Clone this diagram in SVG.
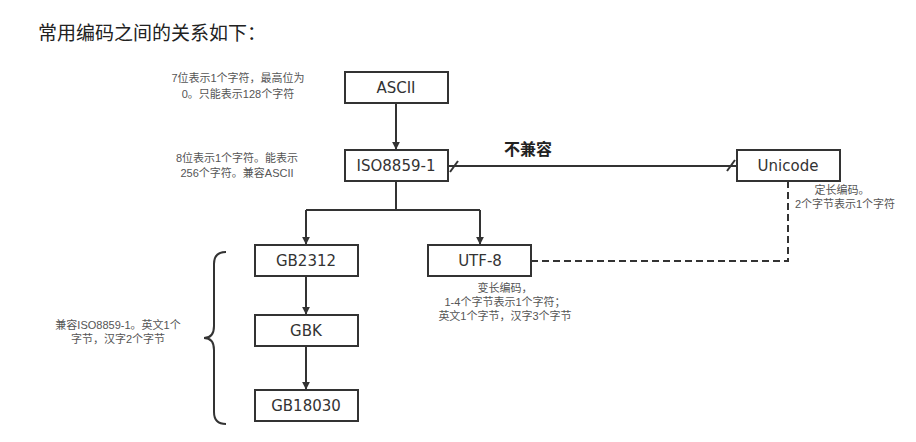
<svg xmlns="http://www.w3.org/2000/svg" width="916" height="442" viewBox="0 0 916 442">
<defs>
<marker id="ah" viewBox="0 0 10 10" refX="9" refY="5" markerWidth="8" markerHeight="8" orient="auto" markerUnits="userSpaceOnUse"><path d="M0,0 L10,5 L0,10 z" fill="#333"/></marker>
<style>
.box{fill:#fff;stroke:#333;stroke-width:2}
.lbl{font-family:"DejaVu Sans","Noto Sans CJK SC",sans-serif;font-size:15px;fill:#333;text-anchor:middle}
.note{font-family:"Liberation Sans","Noto Sans CJK SC",sans-serif;font-size:11px;fill:#555;text-anchor:middle}
.ln{fill:none;stroke:#333;stroke-width:2}
</style>
</defs>
<rect width="916" height="442" fill="#fff"/>
<text x="38" y="40" style="font-family:'Noto Sans CJK SC',sans-serif;font-size:19px;fill:#222">常用编码之间的关系如下：</text>
<g id="connectors">
<line class="ln" x1="396" y1="103" x2="396" y2="149" marker-end="url(#ah)"/>
<path class="ln" d="M396,181 V210 M306,210 H480"/>
<line class="ln" x1="306" y1="210" x2="306" y2="244" marker-end="url(#ah)"/>
<line class="ln" x1="480" y1="210" x2="480" y2="244" marker-end="url(#ah)"/>
<line class="ln" x1="306" y1="276" x2="306" y2="314" marker-end="url(#ah)"/>
<line class="ln" x1="306" y1="346" x2="306" y2="389" marker-end="url(#ah)"/>
<line class="ln" x1="448" y1="166" x2="737" y2="166"/>
<line class="ln" x1="450" y1="172" x2="458" y2="161"/>
<line class="ln" x1="727" y1="171" x2="735" y2="160"/>
<path class="ln" d="M531,261 H788 V181" stroke-dasharray="7,4"/>
<path class="ln" d="M226,252 Q214,252 214,264 V326 Q214,338 204,338 Q214,338 214,350 V412 Q214,424 226,424"/>
</g>
<g id="ascii"><rect class="box" x="345" y="72" width="103" height="31"/><text class="lbl" x="396" y="93">ASCII</text></g>
<g id="iso"><rect class="box" x="345" y="150" width="103" height="31"/><text class="lbl" x="396" y="171">ISO8859-1</text></g>
<g id="unicode"><rect class="box" x="737" y="150" width="103" height="31"/><text class="lbl" x="788" y="171">Unicode</text></g>
<g id="gb2312"><rect class="box" x="255" y="245" width="103" height="31"/><text class="lbl" x="306" y="266">GB2312</text></g>
<g id="utf8"><rect class="box" x="428" y="245" width="103" height="31"/><text class="lbl" x="480" y="266">UTF-8</text></g>
<g id="gbk"><rect class="box" x="255" y="315" width="103" height="31"/><text class="lbl" x="306" y="336">GBK</text></g>
<g id="gb18030"><rect class="box" x="255" y="390" width="103" height="31"/><text class="lbl" x="306" y="411">GB18030</text></g>
<g id="notes">
<text class="note" x="238" y="82">7位表示1个字符，最高位为</text>
<text class="note" x="238" y="98">0。只能表示128个字符</text>
<text class="note" x="237" y="162">8位表示1个字符。能表示</text>
<text class="note" x="237" y="177">256个字符。兼容ASCII</text>
<text x="528" y="155" style="font-family:'Noto Sans CJK SC',sans-serif;font-size:16px;font-weight:bold;fill:#222;text-anchor:middle">不兼容</text>
<text class="note" x="842" y="194">定长编码。</text>
<text class="note" x="845" y="208">2个字节表示1个字符</text>
<text class="note" x="505" y="292">变长编码，</text>
<text class="note" x="505" y="306">1-4个字节表示1个字符；</text>
<text class="note" x="505" y="320">英文1个字节，汉字3个字节</text>
<text class="note" x="118" y="329">兼容ISO8859-1。英文1个</text>
<text class="note" x="118" y="343">字节，汉字2个字节</text>
</g>
</svg>
